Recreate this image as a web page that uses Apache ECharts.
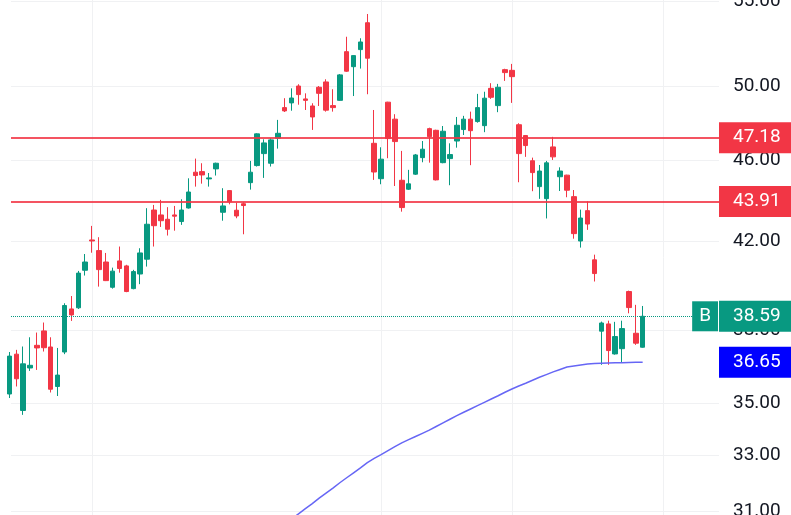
<!DOCTYPE html>
<html><head><meta charset="utf-8">
<script src="https://cdn.jsdelivr.net/npm/echarts@6/dist/echarts.min.js"></script>
<style>html,body{margin:0;padding:0;background:#fff}#c{width:791px;height:515px}</style>
</head><body><div id="c"></div>
<script>
// OHLC per trading session (index 0 = partially visible first candle)
const openP  = [35.36,36.98,34.71,36.41,37.35,37.96,37.28,35.66,37.07,38.91,38.96,40.64,42.05,41.55,41.02,39.87,41.07,40.84,39.81,40.47,41.15,43.49,43.25,43.04,43.25,42.93,43.59,45.38,45.41,45.04,45.55,43.38,44.45,43.48,43.80,44.85,45.72,46.34,45.84,47.15,48.80,49.06,50.00,49.28,48.89,49.93,50.23,48.91,49.20,51.97,51.10,52.09,53.69,46.88,45.05,49.10,48.17,44.97,44.52,45.28,46.13,47.66,47.57,45.87,46.08,47.00,47.61,48.17,48.04,47.82,49.87,48.91,50.93,50.89,47.87,47.29,45.97,44.65,44.05,46.69,45.15,45.23,44.15,42.00,43.46,41.12,37.95,38.26,36.99,37.21,39.68,37.86,37.27];
const closeP = [36.90,35.97,36.58,36.52,37.24,37.25,35.55,36.12,39.06,38.65,40.51,41.02,42.00,40.67,40.17,40.60,40.72,39.68,40.58,41.44,42.80,42.73,42.97,42.56,43.19,43.49,44.38,45.21,45.24,45.09,45.84,43.69,43.90,43.20,43.71,45.38,47.38,46.90,47.06,47.41,48.62,49.33,49.52,49.20,48.29,49.59,48.66,48.80,50.63,50.84,51.74,52.54,51.59,45.39,46.05,47.13,46.97,43.61,44.79,46.27,46.57,47.23,44.99,47.52,46.29,47.84,48.17,47.55,48.80,49.32,49.37,49.93,50.76,50.53,46.34,46.76,45.36,45.44,45.86,46.17,45.44,44.47,42.35,43.10,42.81,40.49,38.30,37.13,37.72,38.06,38.97,37.44,38.59];
const lowP   = [35.20,35.66,34.54,36.29,36.33,37.09,35.42,35.28,36.98,38.39,38.91,40.40,41.45,39.90,40.15,39.81,40.53,39.65,39.78,40.01,40.81,41.74,42.67,42.26,42.49,42.77,43.56,44.65,44.80,44.65,45.21,42.97,43.77,43.09,42.32,44.50,45.67,45.09,45.67,46.60,48.56,48.63,48.96,48.67,47.59,48.89,48.58,48.58,49.17,50.80,49.44,50.99,49.54,44.99,44.77,46.10,44.68,43.41,44.48,45.24,45.89,45.87,44.96,45.84,44.72,46.65,47.32,45.74,47.98,47.47,49.28,48.55,50.29,49.06,44.87,46.17,44.42,44.04,43.08,46.01,44.43,44.12,42.11,41.69,42.53,40.13,36.54,36.54,36.96,36.63,38.72,37.37,37.25];
const highP  = [37.07,37.16,37.30,37.69,37.89,38.32,37.69,37.24,39.16,39.48,40.61,41.39,42.72,42.18,41.44,40.76,41.74,40.89,40.66,41.66,43.58,43.74,43.99,43.63,43.69,44.02,45.07,46.08,45.84,45.34,45.87,44.57,44.48,43.85,43.87,45.96,47.41,47.09,47.15,48.13,49.32,49.87,50.10,49.59,49.04,50.00,50.38,49.82,50.68,52.85,51.76,52.76,54.22,48.67,46.67,49.12,48.44,46.48,45.50,46.32,47.00,47.71,47.60,47.80,46.88,48.29,48.35,48.58,49.56,49.68,50.16,50.12,50.98,51.26,47.95,47.32,46.13,45.75,45.96,47.22,45.63,45.25,44.48,43.51,43.92,41.36,38.36,38.40,38.35,38.40,39.72,39.09,39.04];
// long moving average, starting at session index 40
const maStart = 40;
const maValues = [30.52,30.72,30.90,31.08,31.26,31.45,31.63,31.81,32.00,32.18,32.36,32.54,32.73,32.89,33.03,33.18,33.33,33.47,33.59,33.71,33.83,33.95,34.09,34.23,34.37,34.51,34.64,34.77,34.90,35.03,35.16,35.29,35.43,35.56,35.68,35.79,35.91,36.03,36.14,36.25,36.35,36.45,36.49,36.53,36.57,36.59,36.60,36.61,36.62,36.63,36.64,36.645,36.65];
const priceTicks = [31, 33, 35, 38, 42, 46, 50, 55];
const timeGridIdx = [12, 54, 73, 95];
const levels = [47.18, 43.91];
const lastClose = 38.59;
const maLast = 36.65;

const candles = openP.map((o, i) => [i, o, closeP[i], lowP[i], highP[i]]);
const maData = maValues.map((v, k) => [maStart + k, v]);
const UP = '#089981', DN = '#F23645', BLUE = '#0000FF';
const FONT = 'Roboto';
const FS = 19;
const yMin = 30.86, yMax = 55.08;
const tagValues = levels.concat([lastClose, maLast]);

const boxBase = {color: '#ffffff', fontSize: FS, fontFamily: FONT, lineHeight: 18, padding: [6, 10, 6, 14], width: 48};

const chart = echarts.init(document.getElementById('c'));
chart.setOption({
  animation: false,
  backgroundColor: '#ffffff',
  grid: {left: 11, right: 72, top: 0, bottom: 0, containLabel: false, outerBoundsMode: 'none'},
  xAxis: {
    type: 'value', min: 0.2295, max: 103.09,
    axisLine: {show: false},
    axisTick: {show: false, customValues: timeGridIdx},
    axisLabel: {show: false, customValues: timeGridIdx},
    splitLine: {show: true, lineStyle: {color: '#f0f1f3', width: 1}}
  },
  yAxis: [{
    type: 'log', position: 'right', min: yMin, max: yMax,
    axisLine: {show: false},
    axisTick: {show: false, customValues: priceTicks},
    axisLabel: {customValues: priceTicks, formatter: v => Number(v).toFixed(2), margin: 14, color: '#131722', fontSize: FS, fontFamily: FONT},
    splitLine: {show: true, lineStyle: {color: '#f0f1f3', width: 1}}
  }, {
    type: 'log', position: 'right', min: yMin, max: yMax, z: 10,
    axisLine: {show: false},
    axisTick: {show: false, customValues: tagValues},
    axisLabel: {
      customValues: tagValues, margin: 0,
      formatter: v => {
        let k = 'r';
        if (Math.abs(v - maLast) < 0.005) k = 'b';
        else if (Math.abs(v - lastClose) < 0.005) k = 'g';
        return '{' + k + '|' + Number(v).toFixed(2) + '}';
      },
      rich: {
        r: Object.assign({backgroundColor: DN}, boxBase),
        g: Object.assign({backgroundColor: UP}, boxBase),
        b: Object.assign({backgroundColor: BLUE}, boxBase)
      }
    },
    splitLine: {show: false}
  }],
  series: [{
    type: 'candlestick',
    data: candles,
    encode: {x: 0, y: [1, 2, 3, 4]},
    barWidth: 5,
    clip: true,
    itemStyle: {color: UP, color0: DN, borderColor: UP, borderColor0: DN, borderWidth: 1},
    markLine: {
      symbol: 'none', silent: true, animation: false,
      data: levels.map(v => ({yAxis: v, lineStyle: {color: DN, width: 2, type: 'solid', opacity: 0.85}, label: {show: false}}))
        .concat([{yAxis: lastClose, lineStyle: {color: UP, width: 1, type: 'dotted'},
          label: {show: true, position: 'insideEnd', distance: 1, formatter: 'B', backgroundColor: UP, color: '#fff',
                  fontSize: FS, fontFamily: FONT, lineHeight: 18, padding: [6, 7, 6, 7]}}])
    }
  }, {
    type: 'line',
    data: maData,
    showSymbol: false,
    clip: true,
    lineStyle: {color: '#6666f5', width: 1.5},
    z: 3
  }]
});
</script>
</body></html>
